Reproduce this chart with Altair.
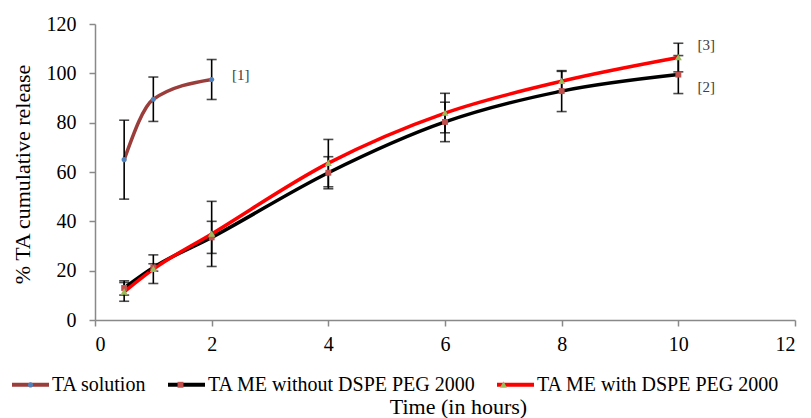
import altair as alt
import pandas as pd

# ---------------- data ----------------
series_names = ["TA solution", "TA ME without DSPE PEG 2000", "TA ME with DSPE PEG 2000"]
marker_keys = ["s1", "s2", "s3"]

sol_x = [0.5, 1, 2]
sol_y = [65.0, 89.5, 97.5]
sol_err = [16.0, 9.0, 8.1]

without_x = [0.5, 1, 2, 4, 6, 8, 10]
without_y = [13.0, 21.3, 33.5, 59.7, 80.3, 92.8, 99.5]
without_err = [2.9, 1.5, 6.5, 6.5, 8.0, 8.3, 7.7]

with_x = [0.5, 1, 2, 4, 6, 8, 10]
with_y = [11.4, 20.6, 34.9, 63.6, 83.9, 96.8, 106.4]
with_err = [3.8, 5.8, 13.2, 9.6, 8.0, 4.0, 5.8]

label_text = ["[1]", "[2]", "[3]"]
label_x = [2.35, 10.33, 10.33]
label_y = [99.3, 94.3, 111.5]

x_ticks = [0, 2, 4, 6, 8, 10, 12]
y_ticks = [0, 20, 40, 60, 80, 100, 120]

line_colors = ["#9B3D3A", "#000000", "#FF0000"]
marker_colors = ["#4F81BD", "#C0504D", "#9BBB59"]
# marker shapes as small paths inside a large symbol box (size 1369 -> 37px box)
marker_shapes = [
    "M0.14,0 A0.14,0.14 0 1,1 -0.14,0 A0.14,0.14 0 1,1 0.14,0 Z",
    "M-0.16,-0.16 L0.16,-0.16 L0.16,0.16 L-0.16,0.16 Z",
    "M0,-0.19 L0.19,0.15 L-0.19,0.15 Z",
]

# ---------------- table ----------------
rows = []
for name, key, xs, ys, es in [
    (series_names[0], marker_keys[0], sol_x, sol_y, sol_err),
    (series_names[1], marker_keys[1], without_x, without_y, without_err),
    (series_names[2], marker_keys[2], with_x, with_y, with_err),
]:
    for xv, yv, ev in zip(xs, ys, es):
        rows.append({"series": name, "mkey": key, "x": xv, "y": yv,
                     "lo": yv - ev, "hi": yv + ev})
df = pd.DataFrame(rows)
labels_df = pd.DataFrame({"text": label_text, "x": label_x, "y": label_y})

FONT = "Liberation Serif"
SYM = 1369
LEG_X = -85
LEG_Y = 340
LEG_OFF = 1
LEG_PAD = 13

xscale = alt.Scale(domain=[0, 12], nice=False)
yscale = alt.Scale(domain=[0, 120], nice=False)

x_enc = alt.X("x:Q", scale=xscale,
              axis=alt.Axis(values=x_ticks, format="d", title="Time (in hours)",
                            grid=False, titleX=363, titleY=86,
                            titleBaseline="middle", titleAlign="center",
                            titleFontSize=22))
y_enc = alt.Y("y:Q", scale=yscale,
              axis=alt.Axis(values=y_ticks, format="d",
                            title="% TA cumulative release", grid=False,
                            titleX=-73, titleY=150, titleAngle=270,
                            titleBaseline="middle", titleAlign="center",
                            titleFontSize=22))

base = alt.Chart(df)

lines = base.mark_line(interpolate="monotone", strokeWidth=3.5).encode(
    x=x_enc, y=y_enc,
    stroke=alt.Stroke("series:N",
                      scale=alt.Scale(domain=series_names, range=line_colors),
                      legend=alt.Legend(orient="none", legendX=LEG_X, legendY=LEG_Y,
                                        direction="horizontal", title=None,
                                        symbolType="stroke", symbolSize=SYM,
                                        symbolStrokeWidth=4, labelFont=FONT,
                                        labelFontSize=20, labelColor="black",
                                        labelLimit=0, labelOffset=LEG_OFF,
                                        columnPadding=LEG_PAD, padding=0)),
)

err_rules = base.mark_rule(color="black", strokeWidth=1.6).encode(
    x="x:Q", y="lo:Q", y2="hi:Q")
cap_lo = base.mark_tick(orient="horizontal", color="black", size=10,
                        thickness=1.6).encode(x="x:Q", y="lo:Q")
cap_hi = base.mark_tick(orient="horizontal", color="black", size=10,
                        thickness=1.6).encode(x="x:Q", y="hi:Q")

label_expr = (
    f"datum.label == '{marker_keys[0]}' ? '{series_names[0]}' : "
    f"datum.label == '{marker_keys[1]}' ? '{series_names[1]}' : '{series_names[2]}'"
)
leg2 = alt.Legend(orient="none", legendX=LEG_X, legendY=LEG_Y, direction="horizontal",
                  title=None, symbolSize=SYM, symbolStrokeWidth=4,
                  symbolStrokeColor="transparent", labelFont=FONT,
                  labelFontSize=20, labelOpacity=0, labelExpr=label_expr,
                  labelLimit=0, labelOffset=LEG_OFF, columnPadding=LEG_PAD,
                  padding=0)

points = base.mark_point(filled=True, size=SYM, strokeWidth=0, opacity=1).encode(
    x="x:Q", y="y:Q",
    fill=alt.Fill("mkey:N", scale=alt.Scale(domain=marker_keys, range=marker_colors),
                  legend=leg2),
    shape=alt.Shape("mkey:N", scale=alt.Scale(domain=marker_keys, range=marker_shapes),
                    legend=leg2),
)

texts = alt.Chart(labels_df).mark_text(align="left", baseline="middle", font=FONT,
                                       fontSize=15, color="#404040").encode(
    x="x:Q", y="y:Q", text="text:N")

chart = alt.layer(lines, err_rules, cap_lo, cap_hi, points, texts).properties(
    width=700, height=296,
    autosize=alt.AutoSizeParams(type="none"),
    padding={"left": 87, "top": 16, "right": 8, "bottom": 98},
).configure_view(stroke=None).configure_axis(
    labelFont=FONT, titleFont=FONT, labelFontSize=20, labelColor="black",
    titleColor="black", titleFontWeight="normal", domainColor="#898989",
    domainWidth=1.5, tickColor="#898989", tickWidth=1.5, tickSize=6,
).configure_axisY(labelPadding=13).configure_axisX(labelPadding=8)

chart.save("out.html", embed_options={"renderer": "svg", "actions": False})
